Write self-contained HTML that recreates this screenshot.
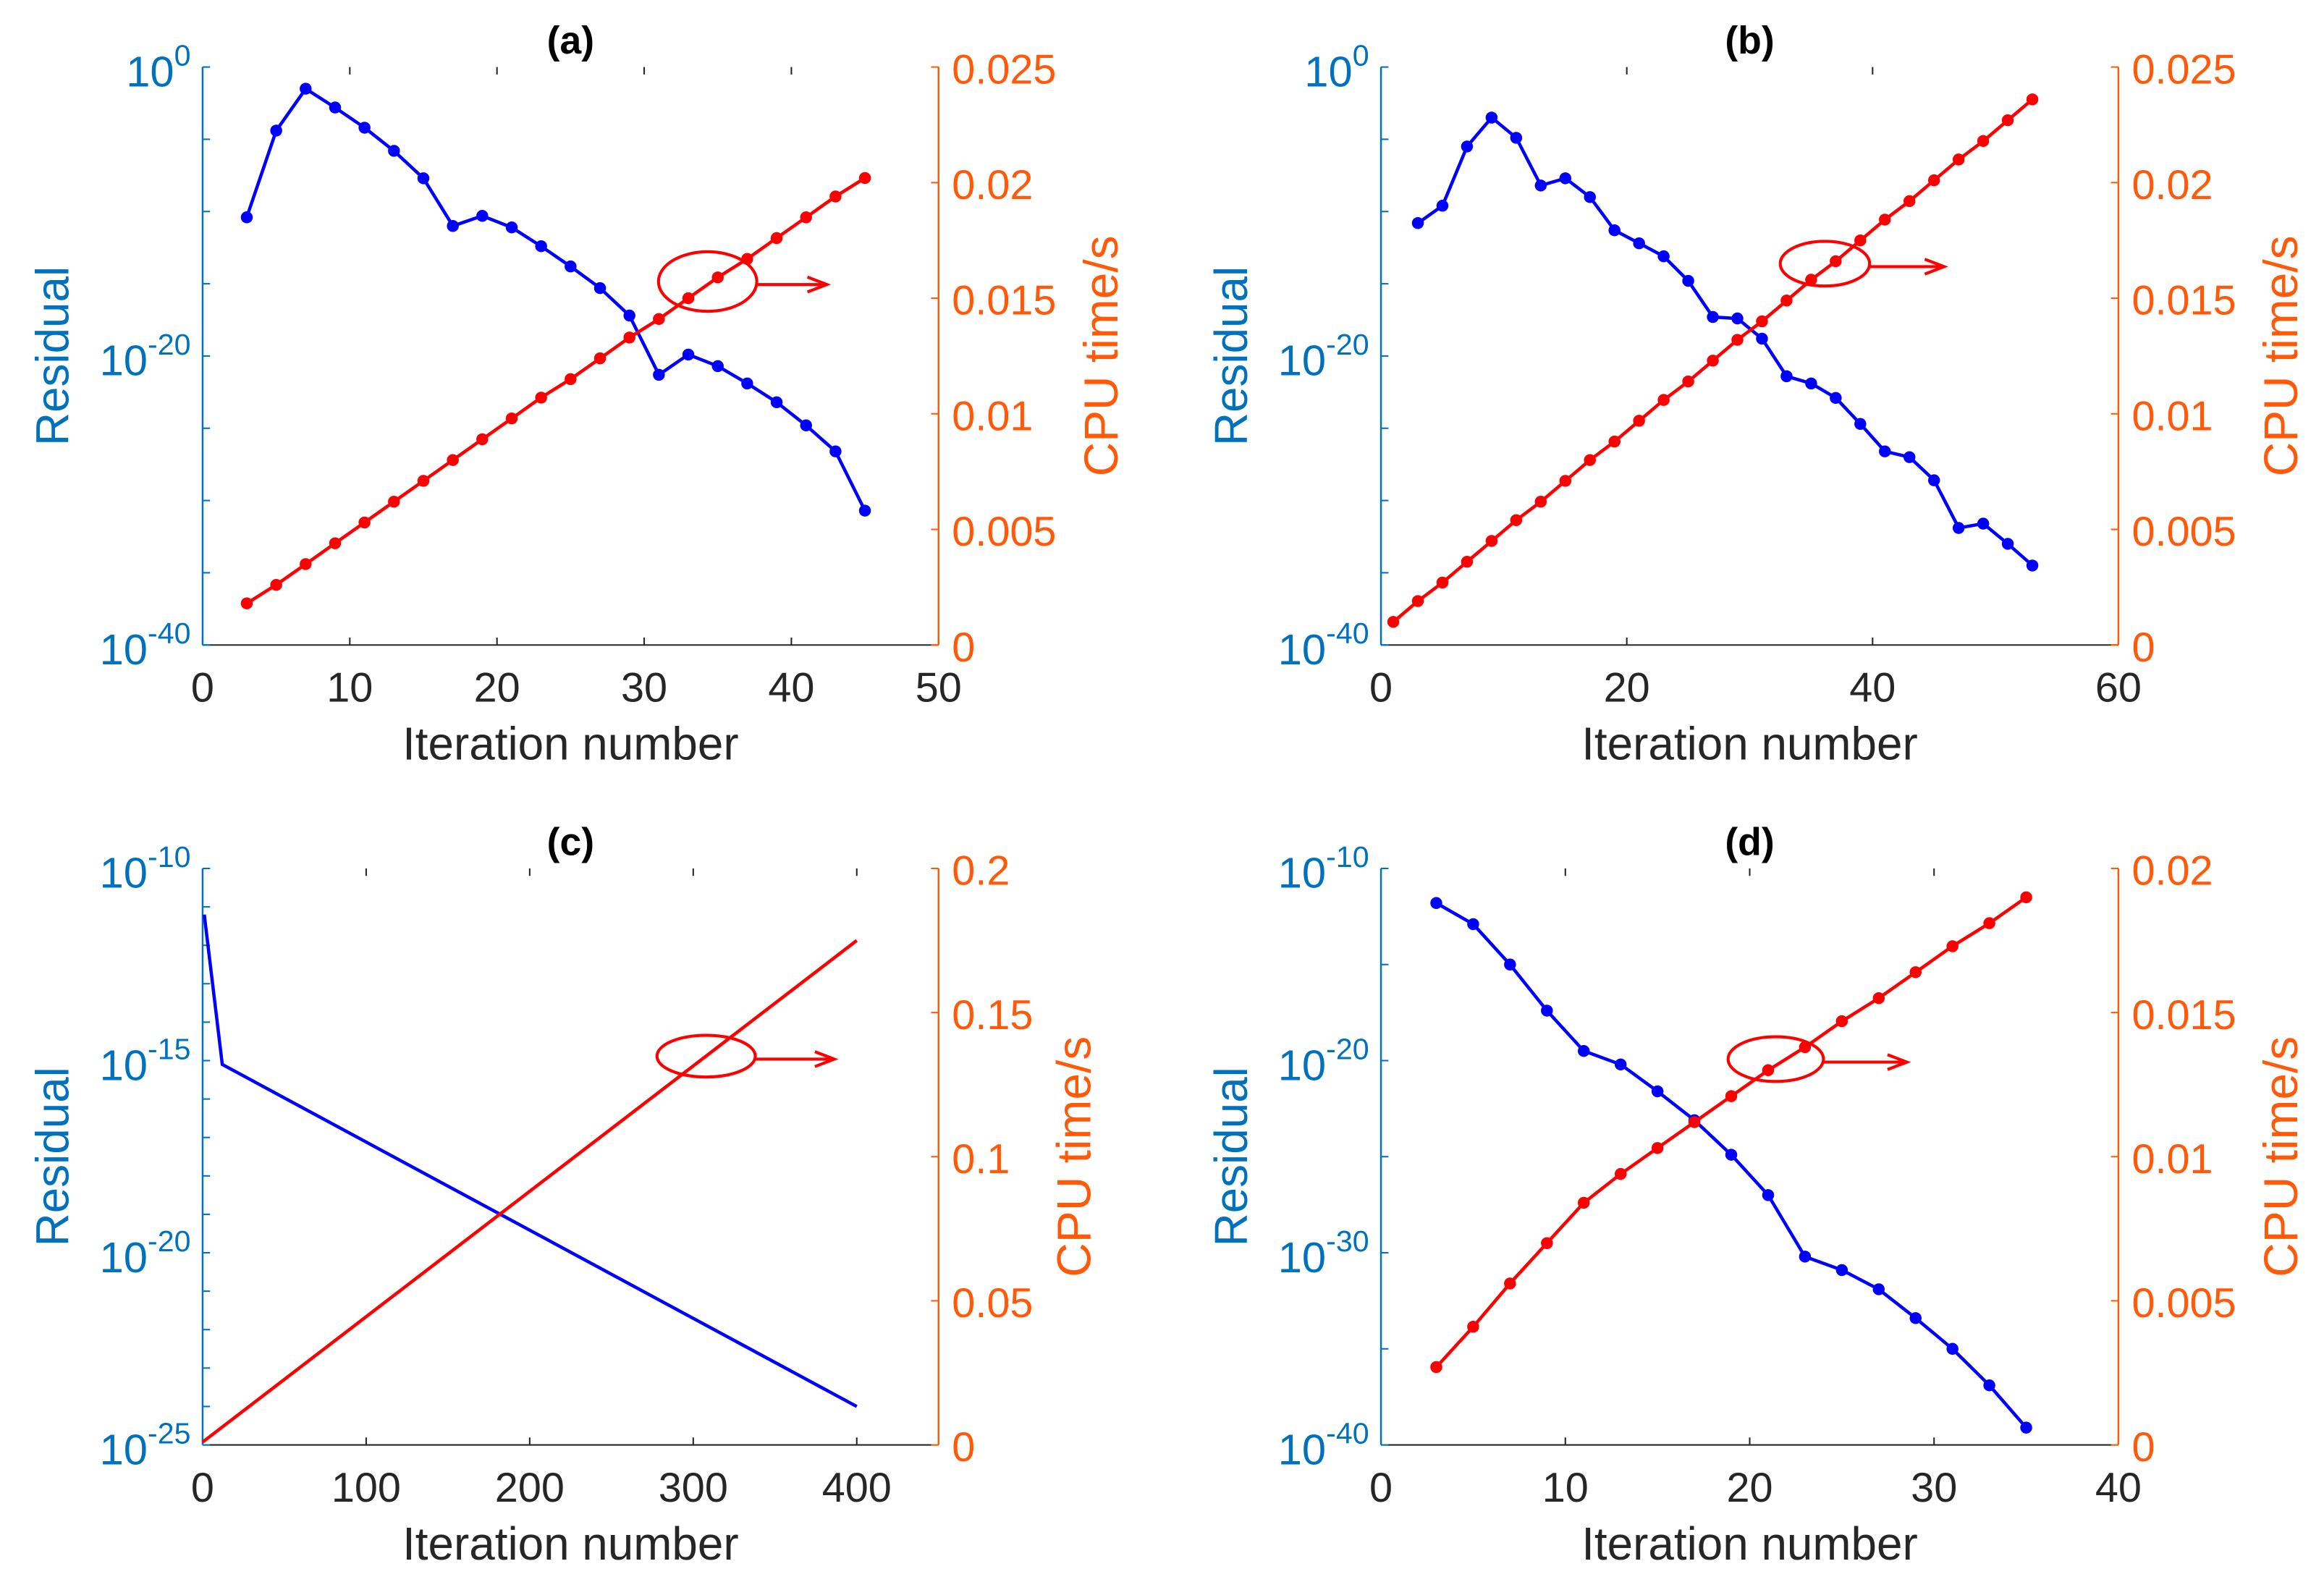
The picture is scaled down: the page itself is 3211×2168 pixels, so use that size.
<!DOCTYPE html>
<html><head><meta charset="utf-8"><style>
html,body{margin:0;padding:0;background:#fff;}
svg{display:block;font-family:"Liberation Sans",Arial,sans-serif;}
</style></head><body>
<svg id="fig" width="3211" height="2168" viewBox="0 0 1560 1053.3" xmlns="http://www.w3.org/2000/svg"></svg>
<script>
// ---- data ----
const aIter = [3,5,7,9,11,13,15,17,19,21,23,25,27,29,31,33,35,37,39,41,43,45];
const aResLog = [-10.4,-4.4,-1.5,-2.8,-4.2,-5.8,-7.7,-11,-10.3,-11.1,-12.4,-13.8,-15.3,-17.2,-21.3,-19.9,-20.7,-21.9,-23.2,-24.8,-26.6,-30.7];
const aCpu = [0.0018,0.0026,0.0035,0.0044,0.0053,0.0062,0.0071,0.0080,0.0089,0.0098,0.0107,0.0115,0.0124,0.0133,0.0141,0.0150,0.0159,0.0167,0.0176,0.0185,0.0194,0.0202];

const bIter = [3,5,7,9,11,13,15,17,19,21,23,25,27,29,31,33,35,37,39,41,43,45,47,49,51,53];
const bResLog = [-10.8,-9.6,-5.5,-3.5,-4.9,-8.2,-7.7,-9,-11.3,-12.2,-13.1,-14.8,-17.3,-17.4,-18.8,-21.4,-21.9,-22.9,-24.7,-26.6,-27,-28.6,-31.9,-31.6,-33,-34.5];
const bCpuIter = [1,3,5,7,9,11,13,15,17,19,21,23,25,27,29,31,33,35,37,39,41,43,45,47,49,51,53];
const bCpu = [0.0010,0.0019,0.0027,0.0036,0.0045,0.0054,0.0062,0.0071,0.0080,0.0088,0.0097,0.0106,0.0114,0.0123,0.0132,0.0140,0.0149,0.0158,0.0166,0.0175,0.0184,0.0192,0.0201,0.0210,0.0218,0.0227,0.0236];

const cIter = [1,12,400];
const cResLog = [-11.2,-15.1,-24.0];
const cCpuIter = [0,400];
const cCpu = [0.001,0.175];

const dIter = [3,5,7,9,11,13,15,17,19,21,23,25,27,29,31,33,35];
const dResLog = [-11.8,-12.9,-15,-17.4,-19.5,-20.2,-21.6,-23.1,-24.9,-27,-30.2,-30.9,-31.9,-33.4,-35,-36.9,-39.1];
const dCpu = [0.0027,0.0041,0.0056,0.0070,0.0084,0.0094,0.0103,0.0112,0.0121,0.0130,0.0138,0.0147,0.0155,0.0164,0.0173,0.0181,0.0190];

const aXTicks = [0,10,20,30,40,50];
const bXTicks = [0,20,40,60];
const cXTicks = [0,100,200,300,400];
const dXTicks = [0,10,20,30,40];
const aRTicks = ['0','0.005','0.01','0.015','0.02','0.025'];
const cRTicks = ['0','0.05','0.1','0.15','0.2'];
const dRTicks = ['0','0.005','0.01','0.015','0.02'];

const NS='http://www.w3.org/2000/svg';
const svg=document.getElementById('fig');
const BLUE_AX='#0072BD', ORANGE='#FF5A0A';
function mk(tag,attrs,parent){const e=document.createElementNS(NS,tag);for(const k in attrs)e.setAttribute(k,attrs[k]);(parent||svg).appendChild(e);return e;}

function panel(o){
  const g=mk('g',{});
  
  
  const X=v=>o.x0+(v-o.xmin)/(o.xmax-o.xmin)*(o.x1-o.x0);
  const YL=v=>o.y1-(v-o.lmin)/(o.lmax-o.lmin)*(o.y1-o.y0);
  const YR=v=>o.y1-(v-0)/(o.rmax)*(o.y1-o.y0);
  const bx=mk('line',{x1:o.x0,y1:o.y1,x2:o.x1,y2:o.y1,stroke:'#262626','stroke-width':1},g);
  
  
  o.xticks.forEach(t=>{
    const x=X(t);
    mk('line',{x1:x,y1:o.y1,x2:x,y2:o.y1-5,stroke:'#262626','stroke-width':1},g);
    mk('line',{x1:x,y1:o.y0,x2:x,y2:o.y0+5,stroke:'#262626','stroke-width':1},g);
    const tx=mk('text',{x:x,y:o.y1+38,'font-size':28,fill:'#262626','text-anchor':'middle'},g);
    tx.textContent=t;
    
    
  });
  const xt=mk('text',{x:(o.x0+o.x1)/2,y:o.y1+77,'font-size':31,fill:'#262626','text-anchor':'middle'},g);
  xt.textContent='Iteration number';
  
  
  const la=mk('line',{x1:o.x0,y1:o.y0,x2:o.x0,y2:o.y1,stroke:BLUE_AX,'stroke-width':1.2},g);
  
  
  for(let v=o.lmin;v<=o.lmax;v+=o.lminor){
    mk('line',{x1:o.x0,y1:YL(v),x2:o.x0+5,y2:YL(v),stroke:BLUE_AX,'stroke-width':1},g);
  }
  for(let v=o.lmin;v<=o.lmax;v+=o.lstep){
    const y=YL(v);
    const t=mk('text',{x:o.x0-8,y:y+13,'font-size':29,fill:BLUE_AX,'text-anchor':'end'},g);
    
    
    const s1=mk('tspan',{},t); s1.textContent='10';
    const s2=mk('tspan',{'font-size':20,dy:-14}); t.appendChild(s2); s2.textContent=String(v);
  }
  const lt=mk('text',{x:0,y:0,'font-size':31,fill:BLUE_AX,'text-anchor':'middle',transform:`translate(${o.x0-90},${(o.y0+o.y1)/2}) rotate(-90)`},g);
  lt.textContent='Residual';
  
  
  const ra=mk('line',{x1:o.x1,y1:o.y0,x2:o.x1,y2:o.y1,stroke:ORANGE,'stroke-width':1.2},g);
  
  
  o.rticks.forEach(lbl=>{
    const y=YR(parseFloat(lbl));
    mk('line',{x1:o.x1,y1:y,x2:o.x1-5,y2:y,stroke:ORANGE,'stroke-width':1},g);
    const t=mk('text',{x:o.x1+9,y:y+11,'font-size':28,fill:ORANGE},g);
    t.textContent=lbl;
    
    
  });
  const rt=mk('text',{x:0,y:0,'font-size':32,fill:ORANGE,'text-anchor':'middle',transform:`translate(${o.x1+o.rtOff},${(o.y0+o.y1)/2}) rotate(-90)`},g);
  rt.textContent='CPU time/s';
  
  
  const tt=mk('text',{x:(o.x0+o.x1)/2,y:o.y0-9,'font-size':26,'font-weight':'bold',fill:'#000','text-anchor':'middle'},g);
  tt.textContent='('+o.id+')';
  
  
  function series(xs,ys,yf,color,name,markers){
    const pts=xs.map((x,i)=>X(x).toFixed(1)+','+yf(ys[i]).toFixed(1)).join(' ');
    const pl=mk('polyline',{points:pts,fill:'none',stroke:color,'stroke-width':2.2},g);
    
    
    if(markers) xs.forEach((x,i)=>{
      const c=mk('circle',{cx:X(x),cy:yf(ys[i]),r:4,fill:color},g);
      
      
    });
  }
  series(o.bx,o.by,YL,'#0000FF','residual',o.markers);
  series(o.rx,o.ry,YR,'#FF0000','cpu-time',o.markers);
  const e=mk('ellipse',{cx:o.ann[0],cy:o.ann[1],rx:o.ann[2],ry:o.ann[3],fill:'none',stroke:'#FF0000','stroke-width':2},g);
  
  
  const ax=o.ann[0]+o.ann[2], ay=o.ann[1]+2, ex=o.ann[4];
  const ar=mk('path',{d:`M${ax},${ay} L${ex},${ay} M${ex-13},${ay-5} L${ex},${ay} L${ex-13},${ay+5}`,fill:'none',stroke:'#FF0000','stroke-width':2},g);
  
  
}

panel({id:'a',x0:136,x1:630,y0:45,y1:433,xmin:0,xmax:50,lmin:-40,lmax:0,lstep:20,lminor:5,rmax:0.025,
  xticks:aXTicks,rticks:aRTicks,bx:aIter,by:aResLog,rx:aIter,ry:aCpu,markers:true,ann:[475,189,33,20,555],rtOff:120});
panel({id:'b',x0:927,x1:1422,y0:45,y1:433,xmin:0,xmax:60,lmin:-40,lmax:0,lstep:20,lminor:5,rmax:0.025,
  xticks:bXTicks,rticks:aRTicks,bx:bIter,by:bResLog,rx:bCpuIter,ry:bCpu,markers:true,ann:[1225,177,30,15,1305],rtOff:120});
panel({id:'c',x0:136,x1:630,y0:583,y1:970,xmin:0,xmax:450,lmin:-25,lmax:-10,lstep:5,lminor:1,rmax:0.2,
  xticks:cXTicks,rticks:cRTicks,bx:cIter,by:cResLog,rx:cCpuIter,ry:cCpu,markers:false,ann:[474,709,33,14,560],rtOff:102});
panel({id:'d',x0:927,x1:1422,y0:583,y1:970,xmin:0,xmax:40,lmin:-40,lmax:-10,lstep:10,lminor:5,rmax:0.02,
  xticks:dXTicks,rticks:dRTicks,bx:dIter,by:dResLog,rx:dIter,ry:dCpu,markers:true,ann:[1192,711,32,15,1280],rtOff:120});
</script>
</body></html>
